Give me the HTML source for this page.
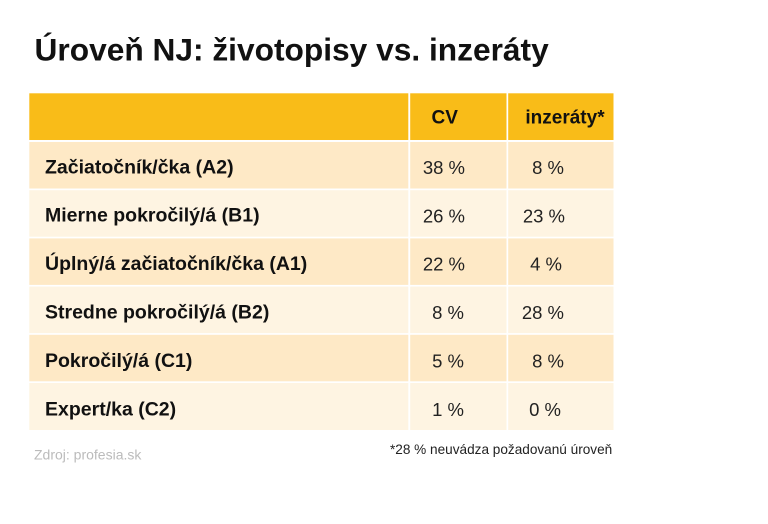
<!DOCTYPE html>
<html>
<head>
<meta charset="utf-8">
<style>
  html, body { margin: 0; padding: 0; background: #ffffff; }
  svg { display: block; }
  text { font-family: "Liberation Sans", Arial, sans-serif; }
</style>
</head>
<body>
<svg width="768" height="524" viewBox="0 0 768 524" xmlns="http://www.w3.org/2000/svg">
  <rect x="0" y="0" width="768" height="524" fill="#ffffff"/>

  <!-- Title -->
  <text x="34.5" y="60.7" font-size="31.7" font-weight="bold" fill="#111111">Úroveň NJ: životopisy vs. inzeráty</text>

  <!-- Header row -->
  <rect x="29.3" y="93.3" width="379" height="46.7" fill="#F9BC18"/>
  <rect x="410.2" y="93.3" width="96.3" height="46.7" fill="#F9BC18"/>
  <rect x="508.2" y="93.3" width="105.3" height="46.7" fill="#F9BC18"/>
  <text x="444.7" y="123.3" font-size="19" font-weight="bold" fill="#111111" text-anchor="middle">CV</text>
  <text x="565" y="123.3" font-size="19" font-weight="bold" fill="#111111" text-anchor="middle">inzeráty*</text>

  <!-- Body rows -->
  <g>
    <rect x="29.3" y="142" width="379" height="46.5" fill="#FEE9C6"/>
    <rect x="410.2" y="142" width="96.3" height="46.5" fill="#FEE9C6"/>
    <rect x="508.2" y="142" width="105.3" height="46.5" fill="#FEE9C6"/>

    <rect x="29.3" y="190.2" width="379" height="46.5" fill="#FEF4E2"/>
    <rect x="410.2" y="190.2" width="96.3" height="46.5" fill="#FEF4E2"/>
    <rect x="508.2" y="190.2" width="105.3" height="46.5" fill="#FEF4E2"/>

    <rect x="29.3" y="238.4" width="379" height="46.5" fill="#FEE9C6"/>
    <rect x="410.2" y="238.4" width="96.3" height="46.5" fill="#FEE9C6"/>
    <rect x="508.2" y="238.4" width="105.3" height="46.5" fill="#FEE9C6"/>

    <rect x="29.3" y="286.6" width="379" height="46.5" fill="#FEF4E2"/>
    <rect x="410.2" y="286.6" width="96.3" height="46.5" fill="#FEF4E2"/>
    <rect x="508.2" y="286.6" width="105.3" height="46.5" fill="#FEF4E2"/>

    <rect x="29.3" y="334.8" width="379" height="46.5" fill="#FEE9C6"/>
    <rect x="410.2" y="334.8" width="96.3" height="46.5" fill="#FEE9C6"/>
    <rect x="508.2" y="334.8" width="105.3" height="46.5" fill="#FEE9C6"/>

    <rect x="29.3" y="383" width="379" height="47" fill="#FEF4E2"/>
    <rect x="410.2" y="383" width="96.3" height="47" fill="#FEF4E2"/>
    <rect x="508.2" y="383" width="105.3" height="47" fill="#FEF4E2"/>
  </g>

  <!-- Row labels -->
  <g font-size="19.5" font-weight="bold" fill="#111111">
    <text x="45" y="173.3">Začiatočník/čka (A2)</text>
    <text x="45" y="221.6">Mierne pokročilý/á (B1)</text>
    <text x="45" y="269.9">Úplný/á začiatočník/čka (A1)</text>
    <text x="45" y="318.6">Stredne pokročilý/á (B2)</text>
    <text x="45" y="367">Pokročilý/á (C1)</text>
    <text x="45" y="415.6">Expert/ka (C2)</text>
  </g>

  <!-- CV values -->
  <g font-size="18.5" fill="#222222" text-anchor="end">
    <text x="465" y="174">38 %</text>
    <text x="465" y="222.3">26 %</text>
    <text x="465" y="270.6">22 %</text>
    <text x="464" y="319">8 %</text>
    <text x="464" y="367.3">5 %</text>
    <text x="464" y="415.8">1 %</text>
  </g>

  <!-- inzeráty values -->
  <g font-size="18.5" fill="#222222" text-anchor="end">
    <text x="564" y="174">8 %</text>
    <text x="565" y="222.3">23 %</text>
    <text x="562" y="270.6">4 %</text>
    <text x="564" y="319">28 %</text>
    <text x="564" y="367.3">8 %</text>
    <text x="561" y="415.8">0 %</text>
  </g>

  <!-- Footnotes -->
  <text x="34" y="459.5" font-size="14" fill="#BBBBBB">Zdroj: profesia.sk</text>
  <text x="390" y="454" font-size="13.6" fill="#222222">*28 % neuvádza požadovanú úroveň</text>
</svg>
</body>
</html>
